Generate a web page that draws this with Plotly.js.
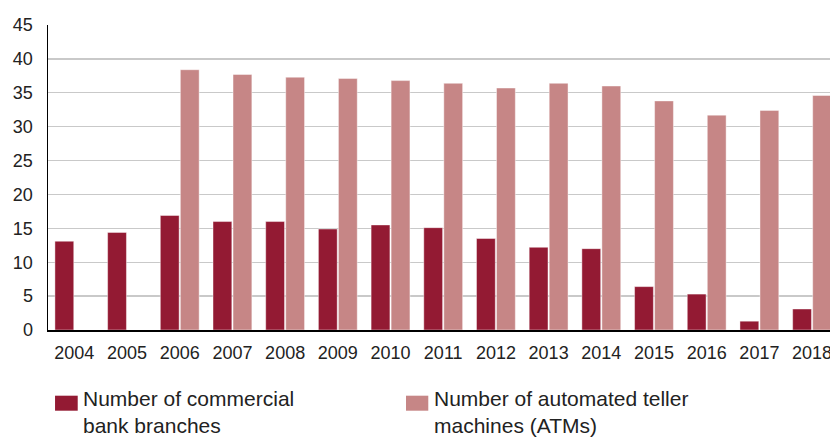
<!DOCTYPE html>
<html>
<head>
<meta charset="utf-8">
<script src="https://cdn.plot.ly/plotly-3.0.1.min.js"></script>
<style>
html,body{margin:0;padding:0;background:#fff;}
#chart{width:830px;height:437px;}
</style>
</head>
<body>
<div id="chart"></div>
<script>
const years = ["2004","2005","2006","2007","2008","2009","2010","2011","2012","2013","2014","2015","2016","2017","2018"];
const branches = [13.1,14.4,16.9,16.0,16.0,14.9,15.5,15.1,13.5,12.2,12.0,6.4,5.3,1.3,3.1];
const atms = [null,null,38.4,37.7,37.3,37.1,36.8,36.4,35.7,36.4,36.0,33.8,31.7,32.4,34.6];
const seriesNames = ["Number of commercial<br>bank branches","Number of automated teller<br>machines (ATMs)"];
const seriesColors = ["#931a33","#c68686"];
const yTicks = [0,5,10,15,20,25,30,35,40,45];

const FONT = "Liberation Sans, Arial, Helvetica, sans-serif";

const traces = [
  {type:"bar", x:years, y:branches, name:seriesNames[0], showlegend:false,
   marker:{color:seriesColors[0], line:{color:"rgba(255,255,255,0.55)", width:0.8}}},
  {type:"bar", x:years, y:atms, name:seriesNames[1], showlegend:false,
   marker:{color:seriesColors[1], line:{color:"rgba(255,255,255,0.55)", width:0.8}}}
];

// legend built from shapes + annotations (paper coords relative to plot area)
const legX = [[0.009,0.038,0.0425],[0.4578,0.4863,0.4915]];
const shapes = [];
const annotations = [];
for (let i=0;i<2;i++){
  shapes.push({type:"rect", xref:"paper", yref:"paper", x0:legX[i][0], x1:legX[i][1], y0:-0.2154, y1:-0.2646,
    fillcolor:seriesColors[i], line:{width:0}});
  annotations.push({xref:"paper", yref:"paper", x:legX[i][2], y:-0.268, xanchor:"left", yanchor:"middle",
    align:"left", showarrow:false, text:seriesNames[i], font:{family:FONT, size:21, color:"#222"}});
}

const layout = {
  width:830, height:437,
  margin:{l:48, r:0, t:25, b:107, pad:0},
  paper_bgcolor:"#fff", plot_bgcolor:"#fff",
  barmode:"group", bargap:0.24, bargroupgap:0.06,
  showlegend:false,
  font:{family:FONT, size:18, color:"#222"},
  xaxis:{type:"category", range:[-0.5,14.34], showgrid:false, zeroline:false,
    showline:true, linecolor:"#000", linewidth:2, ticks:"", ticklabelstandoff:5,
    tickfont:{family:FONT, size:18, color:"#222"}, fixedrange:true},
  yaxis:{range:[0,45], tickvals:yTicks, showgrid:true, gridcolor:"#c9c9c9", gridwidth:1.3,
    zeroline:false, showline:true, linecolor:"#000", linewidth:1.5, ticks:"",
    ticklabelstandoff:10, tickfont:{family:FONT, size:18, color:"#222"}, fixedrange:true},
  shapes:shapes,
  annotations:annotations
};

Plotly.newPlot("chart", traces, layout, {displayModeBar:false, staticPlot:true});
</script>
</body>
</html>
